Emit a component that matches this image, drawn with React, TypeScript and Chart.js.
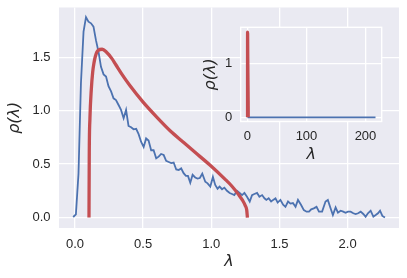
import React, { useEffect, useRef } from "react";
import { Chart, registerables } from "chart.js";

Chart.register(...registerables);

// ---- empirical eigenvalue density (blue) ----
const LAMBDA = [
  -0.013, 0.007, 0.026, 0.044, 0.063, 0.081, 0.099, 0.118, 0.136, 0.154,
  0.173, 0.191, 0.21, 0.228, 0.246, 0.265, 0.283, 0.301, 0.32, 0.338,
  0.357, 0.375, 0.393, 0.412, 0.43, 0.449, 0.467, 0.485, 0.504, 0.522,
  0.54, 0.559, 0.577, 0.596, 0.614, 0.632, 0.651, 0.669, 0.688, 0.706,
  0.724, 0.743, 0.761, 0.779, 0.797, 0.814, 0.829, 0.846, 0.863, 0.882,
  0.899, 0.916, 0.934, 0.956, 0.973, 0.993, 1.012, 1.029, 1.046, 1.061,
  1.079, 1.096, 1.115, 1.135, 1.152, 1.169, 1.189, 1.208, 1.226, 1.243,
  1.262, 1.282, 1.299, 1.316, 1.336, 1.353, 1.373, 1.39, 1.404, 1.421,
  1.439, 1.454, 1.471, 1.487, 1.507, 1.527, 1.544, 1.563, 1.581, 1.599,
  1.618, 1.636, 1.658, 1.679, 1.699, 1.717, 1.733, 1.752, 1.772, 1.79,
  1.813, 1.838, 1.855, 1.875, 1.892, 1.912, 1.929, 1.949, 1.968, 1.985,
  2.002, 2.022, 2.042, 2.059, 2.077, 2.096, 2.115, 2.132, 2.149, 2.169,
  2.189, 2.206, 2.223, 2.238, 2.255, 2.274,
];
const RHO = [
  0.005, 0.03, 0.41, 1.26, 1.74, 1.875, 1.833, 1.818, 1.787, 1.66,
  1.55, 1.41, 1.34, 1.32, 1.23, 1.18, 1.116, 1.1, 1.053, 1.007,
  0.93, 1.007, 0.857, 0.845, 0.826, 0.83, 0.78, 0.71, 0.66, 0.74,
  0.72, 0.63, 0.63, 0.555, 0.57, 0.595, 0.585, 0.53, 0.52, 0.51,
  0.515, 0.45, 0.445, 0.46, 0.415, 0.39, 0.39, 0.325, 0.4, 0.375,
  0.365, 0.37, 0.41, 0.335, 0.32, 0.29, 0.38, 0.305, 0.27, 0.29,
  0.265, 0.28, 0.25, 0.23, 0.22, 0.21, 0.25, 0.23, 0.21, 0.23,
  0.195, 0.15, 0.21, 0.22, 0.23, 0.195, 0.21, 0.18, 0.165, 0.18,
  0.15, 0.165, 0.18, 0.14, 0.165, 0.12, 0.1, 0.15, 0.13, 0.135,
  0.1, 0.165, 0.12, 0.07, 0.055, 0.055, 0.077, 0.086, 0.1, 0.055,
  0.055, 0.15, 0.165, 0.086, 0.023, 0.095, 0.045, 0.064, 0.055, 0.045,
  0.055, 0.055, 0.04, 0.033, 0.04, 0.055, 0.033, 0.008, 0.04, 0.064,
  0.008, 0.023, 0.04, 0.064, 0.015, 0.0,
];

// ---- Marchenko-Pastur curve (red) ----
const MP_LAMBDA = [
  0.103, 0.105, 0.11, 0.12, 0.13, 0.14, 0.15, 0.17, 0.2, 0.23, 0.27, 0.3,
  0.35, 0.4, 0.5, 0.6, 0.7, 0.8, 0.9, 1.0, 1.1, 1.15, 1.2, 1.23, 1.25,
  1.26, 1.265,
];
const MP_RHO = [
  0.0, 0.6, 0.93, 1.2, 1.36, 1.45, 1.51, 1.565, 1.575, 1.55, 1.49, 1.43,
  1.33, 1.24, 1.08, 0.94, 0.81, 0.7, 0.59, 0.48, 0.36, 0.295, 0.215, 0.16,
  0.11, 0.07, 0.0,
];

// ---- inset: full spectrum ----
const INSET_LAMBDA = [0, 50, 100, 150, 217];
const INSET_RHO = [0, 0, 0, 0, 0];

const X_TICKS = [0, 0.5, 1.0, 1.5, 2.0];
const Y_TICKS = [0, 0.5, 1.0, 1.5];
const INSET_X_TICKS = [0, 100, 200];
const INSET_Y_TICKS = [0, 1];

const BLUE = "#4C72B0";
const RED = "#C44E52";
const BG = "#EAEAF2";
const TXT = "#262626";
const TICK_FONT = { family: "'Liberation Sans', Arial, sans-serif", size: 13 };
const TITLE_FONT = { family: "'DejaVu Sans', sans-serif", size: 16, style: "italic" as const };

const W = 407;
const H = 278;

function pts(xs: number[], ys: number[]) {
  return xs.map((x, i) => ({ x, y: ys[i] }));
}

function bgPlugin(border: boolean) {
  return {
    id: "bg" + (border ? "b" : ""),
    beforeDraw(chart: any) {
      const { ctx, chartArea: a } = chart;
      ctx.save();
      ctx.fillStyle = BG;
      ctx.fillRect(a.left, a.top, a.right - a.left, a.bottom - a.top);
      ctx.restore();
    },
    afterDraw(chart: any) {
      if (!border) return;
      const { ctx, chartArea: a } = chart;
      ctx.save();
      ctx.strokeStyle = "#ffffff";
      ctx.lineWidth = 1.4;
      ctx.strokeRect(a.left, a.top, a.right - a.left, a.bottom - a.top);
      ctx.restore();
    },
  };
}

function xScale(min: number, max: number, ticks: number[], fmt: (v: number) => string, tickPad: number, height: number, titlePad: number) {
  return {
    type: "linear" as const,
    min,
    max,
    afterBuildTicks: (s: any) => {
      s.ticks = ticks.map((v) => ({ value: v }));
    },
    afterFit: (s: any) => {
      s.height = height;
      s.paddingLeft = 0;
      s.paddingRight = 0;
    },
    grid: { color: "#ffffff", lineWidth: 1.3, drawTicks: false },
    border: { display: false },
    ticks: {
      padding: tickPad,
      color: TXT,
      font: TICK_FONT,
      autoSkip: false,
      maxRotation: 0,
      callback: (v: any) => fmt(Number(v)),
    },
    title: {
      display: true,
      text: "λ",
      color: TXT,
      font: TITLE_FONT,
      padding: { top: 0, bottom: titlePad },
    },
  };
}

function yScale(min: number, max: number, ticks: number[], fmt: (v: number) => string, tickPad: number, width: number, titlePad: number) {
  return {
    type: "linear" as const,
    min,
    max,
    afterBuildTicks: (s: any) => {
      s.ticks = ticks.map((v) => ({ value: v }));
    },
    afterFit: (s: any) => {
      s.width = width;
      s.paddingTop = 0;
      s.paddingBottom = 0;
    },
    grid: { color: "#ffffff", lineWidth: 1.3, drawTicks: false },
    border: { display: false },
    ticks: {
      padding: tickPad,
      color: TXT,
      font: TICK_FONT,
      autoSkip: false,
      callback: (v: any) => fmt(Number(v)),
    },
    title: {
      display: true,
      text: "ρ(λ)",
      color: TXT,
      font: TITLE_FONT,
      padding: { top: titlePad, bottom: 0 },
    },
  };
}

export default function App() {
  const mainRef = useRef<HTMLCanvasElement>(null);
  const insetRef = useRef<HTMLCanvasElement>(null);

  useEffect(() => {
    const f1 = (v: number) => v.toFixed(1);
    const f0 = (v: number) => String(Math.round(v));

    const main = new Chart(mainRef.current!, {
      type: "line",
      data: {
        datasets: [
          {
            data: pts(LAMBDA, RHO),
            borderColor: BLUE,
            borderWidth: 1.8,
            pointRadius: 0,
            tension: 0,
            order: 1,
          },
          {
            data: pts(MP_LAMBDA, MP_RHO),
            borderColor: RED,
            borderWidth: 3.3,
            pointRadius: 0,
            cubicInterpolationMode: "monotone",
            order: 0,
          },
        ],
      },
      options: {
        animation: false,
        responsive: false,
        parsing: false as any,
        layout: { padding: { left: 0, right: 8, top: 7.5, bottom: 0 } },
        plugins: { legend: { display: false }, tooltip: { enabled: false } },
        scales: {
          x: xScale(-0.117, 2.377, X_TICKS, f1, 8.5, 50, 6.8),
          y: yScale(-0.098, 1.966, Y_TICKS, f1, 8.5, 59, 5.5),
        },
      },
      plugins: [bgPlugin(false)],
    });

    const inset = new Chart(insetRef.current!, {
      type: "line",
      data: {
        datasets: [
          {
            data: pts(INSET_LAMBDA, INSET_RHO),
            borderColor: BLUE,
            borderWidth: 1.8,
            pointRadius: 0,
            tension: 0,
            order: 1,
          },
          {
            data: pts(MP_LAMBDA, MP_RHO),
            borderColor: RED,
            borderWidth: 3.3,
            pointRadius: 0,
            cubicInterpolationMode: "monotone",
            order: 0,
          },
        ],
      },
      options: {
        animation: false,
        responsive: false,
        parsing: false as any,
        layout: { padding: { left: 200.7, right: 25.3, top: 27.3, bottom: 111.5 } },
        plugins: { legend: { display: false }, tooltip: { enabled: false } },
        scales: {
          x: xScale(-11.5, 227.5, INSET_X_TICKS, f0, 7.4, 45, 2.1),
          y: yScale(-0.078, 1.667, INSET_Y_TICKS, f0, 8.5, 40, 0.5),
        },
      },
      plugins: [bgPlugin(true)],
    });

    return () => {
      main.destroy();
      inset.destroy();
    };
  }, []);

  return (
    <div style={{ position: "fixed", left: 0, top: 0, width: W, height: H, background: "#ffffff" }}>
      <canvas ref={mainRef} width={W} height={H} style={{ position: "absolute", left: 0, top: 0, width: W, height: H }} />
      <canvas ref={insetRef} width={W} height={H} style={{ position: "absolute", left: 0, top: 0, width: W, height: H }} />
    </div>
  );
}
